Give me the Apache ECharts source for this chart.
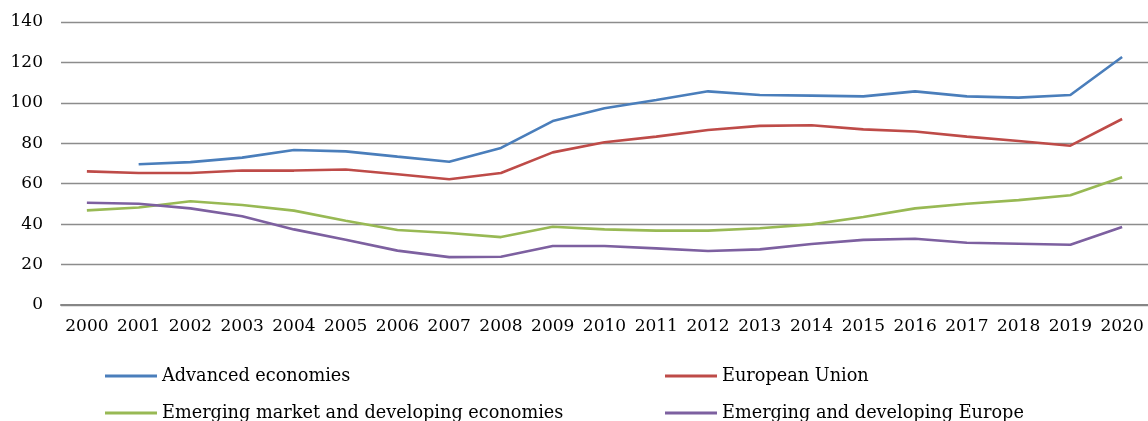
<!DOCTYPE html>
<html>
<head>
<meta charset="utf-8">
<script src="https://cdn.jsdelivr.net/npm/echarts@6/dist/echarts.min.js"></script>
<style>
html,body{margin:0;padding:0;background:#fff;}
#chart{width:1148px;height:421px;}
</style>
</head>
<body>
<div id="chart"></div>
<script>
const years = ['2000','2001','2002','2003','2004','2005','2006','2007','2008','2009','2010','2011','2012','2013','2014','2015','2016','2017','2018','2019','2020'];
const advanced = [null,69.6,70.7,72.9,76.7,76.0,73.4,70.9,77.7,91.0,97.3,101.4,105.7,103.9,103.6,103.2,105.7,103.2,102.6,103.9,122.7];
const eu = [66.1,65.3,65.3,66.5,66.5,67.0,64.7,62.2,65.3,75.5,80.5,83.3,86.6,88.6,88.9,86.9,85.8,83.3,81.1,78.8,92.0];
const emde = [46.8,48.2,51.3,49.5,46.7,41.7,37.1,35.6,33.6,38.7,37.4,36.8,36.8,38.0,39.9,43.5,47.8,50.1,51.9,54.3,63.2];
const emEurope = [50.6,50.1,47.8,43.9,37.4,32.3,26.9,23.7,23.9,29.2,29.2,28.0,26.7,27.5,30.2,32.2,32.8,30.8,30.3,29.8,38.6];
const yTicks = [0,20,40,60,80,100,120,140];
const seriesNames = ['Advanced economies','European Union','Emerging market and developing economies','Emerging and developing Europe'];
const seriesColors = ['#4A7EBB','#BE4B48','#98B954','#7D60A0'];

const FONT = 'DejaVu Serif';
const chart = echarts.init(document.getElementById('chart'));
function mk(i, data){
  return {name:seriesNames[i],type:'line',data:data,symbol:'none',connectNulls:false,
    lineStyle:{color:seriesColors[i],width:2.6},itemStyle:{color:seriesColors[i]}};
}
function lg(name, left, top){
  return {orient:'horizontal',left:left,top:top,itemWidth:52,itemHeight:3,icon:'rect',
    itemGap:0,padding:0,data:[name],
    textStyle:{fontFamily:FONT,fontSize:17.7,color:'#000',padding:[0,0,0,0]}};
}
chart.setOption({
  animation:false,
  textStyle:{fontFamily:FONT},
  grid:{left:61,right:-4,top:22,bottom:116},
  xAxis:{type:'category',data:years,boundaryGap:true,
    axisLine:{show:true,lineStyle:{color:'#868686',width:2}},
    axisTick:{show:false},
    axisLabel:{color:'#000',fontFamily:FONT,fontSize:17,margin:13,interval:0}},
  yAxis:{type:'value',min:yTicks[0],max:yTicks[yTicks.length-1],interval:20,
    axisLine:{show:false},axisTick:{show:false},
    axisLabel:{color:'#000',fontFamily:FONT,fontSize:17,margin:18},
    splitLine:{lineStyle:{color:'#8c8c8c',width:1.3}}},
  legend:[
    lg(seriesNames[0],105,367),
    lg(seriesNames[1],665,367),
    lg(seriesNames[2],105,404),
    lg(seriesNames[3],665,404)
  ],
  series:[mk(0,advanced),mk(1,eu),mk(2,emde),mk(3,emEurope)]
});
</script>
</body>
</html>
